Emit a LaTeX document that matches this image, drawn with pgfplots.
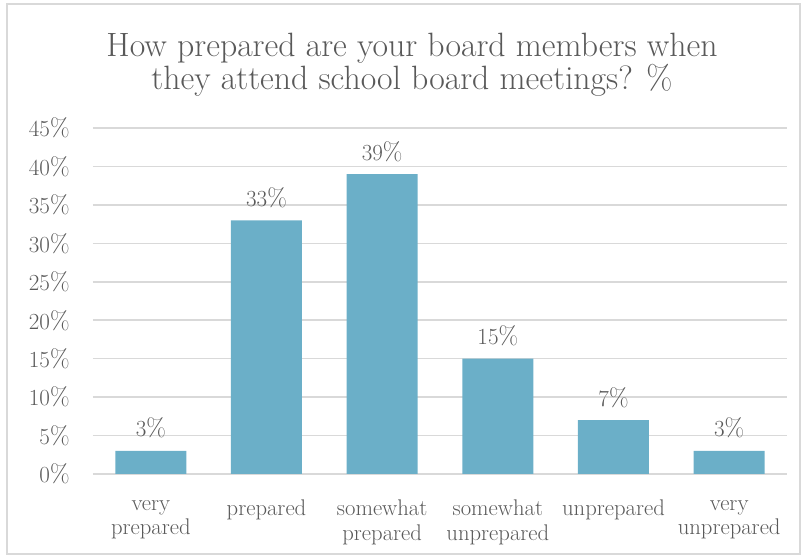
\documentclass[border=0pt]{standalone}
\usepackage{pgfplots}
\pgfplotsset{compat=1.18}
\definecolor{txtgray}{HTML}{595959}
\definecolor{gridgray}{HTML}{D9D9D9}
\definecolor{barblue}{HTML}{6BAFC8}
\begin{document}
\begin{tikzpicture}
\begin{axis}[
    scale only axis,
    width=520.5pt, height=259.5pt,
    ybar, bar width=53.25pt,
    ymin=0, ymax=45, ytick={0,5,...,45},
    xmin=-0.5, xmax=5.5,
    xtick=data,
    xticklabels={{very\\prepared}, prepared, {somewhat\\prepared}, {somewhat\\unprepared}, unprepared, {very\\unprepared}},
    yticklabel={\pgfmathprintnumber{\tick}\%},
    axis line style={draw=none},
    major tick length=0pt,
    ymajorgrids,
    major grid style={color=gridgray, line width=1.1pt},
    tick label style={color=txtgray},
    yticklabel style={font=\fontsize{19}{20}\selectfont, xshift=-14pt},
    xticklabel style={font=\fontsize{17}{18.5}\selectfont, align=center, anchor=north, yshift=-16pt},
    nodes near coords={\pgfmathprintnumber{\pgfplotspointmeta}\%},
    nodes near coords style={color=txtgray, font=\fontsize{19}{20}\selectfont, yshift=6pt},
]
\addplot[fill=barblue, draw=none] coordinates {
    (0,3) (1,33) (2,39) (3,15) (4,7) (5,3)
};
\end{axis}
\node[color=txtgray, align=center, font=\fontsize{25.3}{25}\selectfont] at (239.25pt,307pt)
    {How prepared are your board members when\\they attend school board meetings? \%};
\draw[color=gridgray, line width=1.1pt] (-64.5pt,352.5pt) rectangle (530.25pt,-60pt);
\path (-69.75pt,355.5pt) rectangle (533.25pt,-61.5pt);
\end{tikzpicture}
\end{document}
